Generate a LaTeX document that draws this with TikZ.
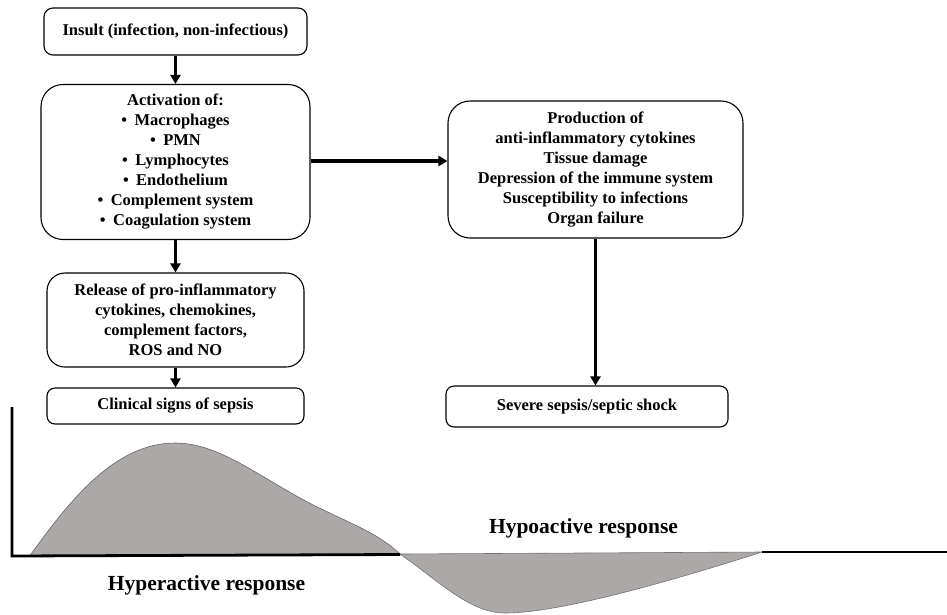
\documentclass[tikz,border=0pt]{standalone}
\usepackage{fontspec}
\setmainfont{Liberation Serif}
\usetikzlibrary{arrows.meta,calc}
\definecolor{humpgrey}{RGB}{171,168,167}
\newcommand{\bul}{\textbullet\hspace{0.45em}}
\tikzset{
  box/.style={draw=black, line width=1.1pt, align=center, inner sep=0pt,
     font=\fontsize{16.5}{20}\selectfont\bfseries},
  arr/.style={line width=3.4pt, -{Triangle[length=9pt,width=10pt]}},
  axis/.style={line width=2.8pt},
  lbl/.style={font=\fontsize{21.5}{24}\selectfont\bfseries}
}
\begin{document}
\begin{tikzpicture}[x=1pt,y=-1pt]
\useasboundingbox (0,0) rectangle (947,614);
% boxes
\node[box, rounded corners=9pt, minimum width=263pt, minimum height=47pt] (insult) at (175.5,31.5) {Insult (infection, non-infectious)};
\node[box, rounded corners=22pt, minimum width=269pt, minimum height=155pt] (activ) at (175.5,162) {Activation of:\\ \bul Macrophages\\ \bul PMN\\ \bul Lymphocytes\\ \bul Endothelium\\ \bul Complement system\\ \bul Coagulation system};
\node[box, rounded corners=18pt, minimum width=257pt, minimum height=94pt] (release) at (175.5,320) {Release of pro-inflammatory\\ cytokines, chemokines,\\ complement factors,\\ ROS and NO};
\node[box, rounded corners=8pt, minimum width=257pt, minimum height=36pt] (clinical) at (175.5,406) {Clinical signs of sepsis};
\node[box, rounded corners=22pt, minimum width=295pt, minimum height=137pt] (prod) at (595.5,169.5) {Production of\\ anti-inflammatory cytokines\\ Tissue damage\\ Depression of the immune system\\ Susceptibility to infections\\ Organ failure};
\node[box, rounded corners=8pt, minimum width=282pt, minimum height=41pt] (severe) at (587,406.5) {Severe sepsis/septic shock};
% arrows
\draw[arr] (insult.south) -- (insult.south |- activ.north);
\draw[arr] (activ.south) -- (activ.south |- release.north);
\draw[arr] (release.south) -- (release.south |- clinical.north);
\draw[arr] ($(activ.east)+(0,-1)$) -- ($(activ.east -| prod.west)+(0,-1)$);
\draw[arr] (prod.south) -- (prod.south |- severe.north);
% curves
\fill[humpgrey, draw=black!60, line width=0.6pt] (30,555.5) .. controls (70,500) and (115,443) .. (175,443) .. controls (215,443) and (250,470) .. (300,498) .. controls (340,520) and (375,530) .. (400,554) -- cycle;
\fill[humpgrey, draw=black!55, line width=0.6pt] (400,554) .. controls (440,582) and (470,613) .. (505,613) .. controls (565,613) and (690,575) .. (762,552) -- cycle;
% axes
\coordinate (ytop) at (12,407);
\coordinate (orig) at (12,556);
\coordinate (xmid) at (400,554.5);
\coordinate (xr1) at (762,552);
\coordinate (xr2) at (947,552);
\draw[axis] (ytop) -- (orig) -- (xmid);
\draw[line width=2.2pt] (xr1) -- (xr2);
% labels
\node[lbl] (hypo) at (583.5,528) {Hypoactive response};
\node[lbl] (hyper) at (206.5,585) {Hyperactive response};
\end{tikzpicture}
\end{document}
